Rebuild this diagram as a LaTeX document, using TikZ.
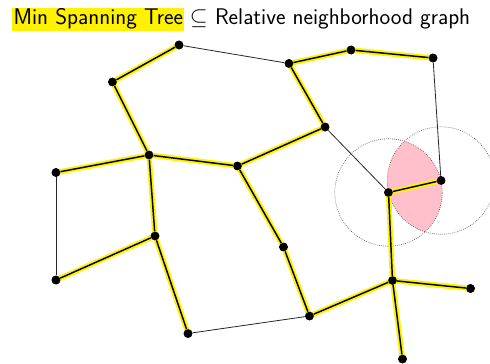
\documentclass[tikz,border=0pt]{standalone}
\usepackage{amsmath,amssymb}
\definecolor{lenspink}{HTML}{FFC0CB}
\begin{document}
\begin{tikzpicture}[x=0.75pt,y=-0.75pt,
  dot/.style={circle,fill=black,inner sep=0pt,minimum size=6.5pt},
  mst/.style={line width=4pt,yellow},
  edge/.style={line width=1.1pt,black},
  nonmst/.style={line width=0.6pt,black!85},
  ring/.style={densely dotted,line width=0.5pt,black!70},
  ttl/.style={anchor=base west,inner sep=1pt,font=\sffamily\fontsize{17}{20}\selectfont}]
\useasboundingbox (0,0) rectangle (490,364);
% title
\node[ttl,fill=yellow] (t1) at (12,25) {Min Spanning Tree};
\node[ttl] (t2) at (t1.base east) {\,$\subseteq$ Relative neighborhood graph};
% points
\node[dot] (A) at (179,45) {};
\node[dot] (B) at (112.5,82) {};
\node[dot] (C) at (289,63.5) {};
\node[dot] (D) at (351,50) {};
\node[dot] (E) at (433,58) {};
\node[dot] (F) at (325,127) {};
\node[dot] (G) at (149,155) {};
\node[dot] (H) at (237.5,166) {};
\node[dot] (I) at (56,172.5) {};
\node[dot] (J) at (388.5,192.5) {};
\node[dot] (K) at (441,180.5) {};
\node[dot] (L) at (155,236) {};
\node[dot] (M) at (283.5,247) {};
\node[dot] (N) at (56,280) {};
\node[dot] (O) at (392.5,280.5) {};
\node[dot] (P) at (470.5,288.5) {};
\node[dot] (Q) at (188,333.5) {};
\node[dot] (R) at (309.5,316) {};
\node[dot] (S) at (402.5,359) {};
% lens
\begin{scope}
  \clip (J.center) circle (40.3pt);
  \fill[lenspink] (K.center) circle (40.3pt);
\end{scope}
\draw[ring] (J.center) circle (40.3pt);
\draw[ring] (K.center) circle (40.3pt);
% MST highlight
\foreach \a/\b in {A/B,C/D,D/E,C/F,B/G,G/H,H/F,J/K,G/I,G/L,L/N,L/Q,H/M,M/R,R/O,J/O,O/P,O/S}
  \draw[mst] (\a.center) -- (\b.center);
\foreach \a/\b in {A/B,C/D,D/E,C/F,B/G,G/H,H/F,J/K,G/I,G/L,L/N,L/Q,H/M,M/R,R/O,J/O,O/P,O/S}
  \draw[edge] (\a) -- (\b);
\foreach \a/\b in {A/C,E/K,F/J,I/N,Q/R}
  \draw[nonmst] (\a) -- (\b);
% redraw dots on top
\foreach \p in {A,B,C,D,E,F,G,H,I,J,K,L,M,N,O,P,Q,R,S}
  \fill (\p.center) circle (3.25pt);
\end{tikzpicture}
\end{document}
